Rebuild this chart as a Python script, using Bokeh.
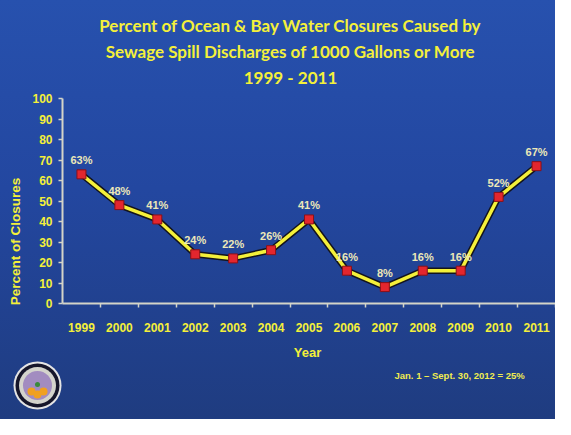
import math
from bokeh.plotting import figure
from bokeh.models import Range1d, FixedTicker, Label, LabelSet, ColumnDataSource
from bokeh.core.properties import value
from bokeh.embed import file_html
from bokeh.resources import INLINE

# ---------------- data ----------------
years = [1999, 2000, 2001, 2002, 2003, 2004, 2005, 2006, 2007, 2008, 2009, 2010, 2011]
percent = [63, 48, 41, 24, 22, 26, 41, 16, 8, 16, 16, 52, 67]
pct_labels = [f"{v}%" for v in percent]
y_ticks = [0, 10, 20, 30, 40, 50, 60, 70, 80, 90, 100]

title_lines = [
    "Percent of Ocean & Bay Water Closures Caused by",
    "Sewage Spill Discharges of 1000 Gallons or More",
    "1999 - 2011",
]
y_label = "Percent of Closures"
x_label = "Year"
note = "Jan. 1 \u2013 Sept. 30, 2012 = 25%"

# ---------------- layout helpers (slide pixels -> data units) ----------------
W, H = 555, 419                 # figure size
LEFT, TOP = 5, 5                # slide pixel where the figure starts
ORG_X, ORG_Y = 67, 308          # slide pixel of the axes' corner
PX = (LEFT + W - ORG_X) / 13.0  # pixels per year
PY = 2.05                       # pixels per percent
X0 = years[0] - 0.5
X1 = years[-1] + 0.5

def X(px):
    return X0 + (px - ORG_X) / PX

def Y(py):
    return (ORG_Y - py) / PY

SANS = "Liberation Sans"
TITLE_FONT = "Lato"
YELLOW = "#f4f03a"
AXIS = "#d4d4c8"

p = figure(width=W, height=H, output_backend="svg", toolbar_location=None, title=None,
           x_range=Range1d(X(LEFT), X(LEFT + W)), y_range=Range1d(Y(TOP + H), Y(TOP)),
           min_border=0)
p.background_fill_color = None
p.border_fill_color = None
p.outline_line_color = None
p.styles = {"background": "linear-gradient(180deg, #2751ae 0%, #2347a0 45%, #1f3c80 100%)"}
p.xgrid.grid_line_color = None
p.ygrid.grid_line_color = None

xa = p.xaxis[0]
xa.fixed_location = 0
xa.bounds = (X0, X1)
xa.ticker = FixedTicker(ticks=years, minor_ticks=[y + 0.5 for y in years])
xa.major_tick_out = 0
xa.major_tick_in = 0
xa.minor_tick_out = 4
xa.minor_tick_in = 0
xa.minor_tick_line_color = AXIS
xa.minor_tick_line_width = 1.5
xa.axis_line_color = AXIS
xa.axis_line_width = 2
xa.major_label_text_font = SANS
xa.major_label_text_font_style = "bold"
xa.major_label_text_font_size = "12px"
xa.major_label_text_color = YELLOW
xa.major_label_standoff = 15

ya = p.yaxis[0]
ya.fixed_location = X0
ya.bounds = (0, 100)
ya.ticker = FixedTicker(ticks=y_ticks, minor_ticks=[])
ya.major_tick_out = 4
ya.major_tick_in = 0
ya.major_tick_line_color = AXIS
ya.major_tick_line_width = 1.5
ya.axis_line_color = AXIS
ya.axis_line_width = 2
ya.major_label_text_font = SANS
ya.major_label_text_font_style = "bold"
ya.major_label_text_font_size = "12px"
ya.major_label_text_color = YELLOW
ya.major_label_standoff = 6

src = ColumnDataSource(dict(year=years, pct=percent, label=pct_labels))

p.line("year", "pct", source=src, line_color="#14141c", line_width=6.5)
p.line("year", "pct", source=src, line_color=YELLOW, line_width=3.5)
p.scatter("year", "pct", source=src, marker="square", size=9,
          fill_color="#e3262e", line_color="#8a1018", line_width=1)

p.add_layout(LabelSet(x="year", y="pct", text="label", source=src, y_offset=14,
                      text_align="center", text_baseline="middle",
                      text_font=value(SANS), text_font_style="bold", text_font_size="11px",
                      text_color="#ece8b8"))

# ---------------- annotations ----------------
for txt, py in zip(title_lines, [30, 56, 82]):
    p.add_layout(Label(x=X(295), y=Y(py), text=txt, text_align="center", text_baseline="middle",
                       text_font=TITLE_FONT, text_font_style="bold", text_font_size="17px",
                       text_color=YELLOW))

p.add_layout(Label(x=X(20), y=Y(246), text=y_label, angle=math.pi / 2,
                   text_align="center", text_baseline="middle",
                   text_font=SANS, text_font_style="bold", text_font_size="13.5px",
                   text_color=YELLOW))

p.add_layout(Label(x=X(312), y=Y(357), text=x_label, text_align="center", text_baseline="middle",
                   text_font=SANS, text_font_style="bold", text_font_size="13px",
                   text_color=YELLOW))

p.add_layout(Label(x=X(399), y=Y(380), text=note, text_align="left", text_baseline="middle",
                   text_font=SANS, text_font_style="bold", text_font_size="9.5px",
                   text_color="#f0ec50"))

# county seal (decorative)
sx, sy = X(42), Y(390)
for size, col in [(48, "#e4e4e4"), (44, "#16162a"), (37, "#d4d4cc"), (29, "#a28cc0")]:
    p.scatter([sx], [sy], marker="circle", size=size, fill_color=col, line_color=None)
p.scatter([X(36), X(42), X(48)], [Y(396), Y(399), Y(396)], marker="circle", size=8,
          fill_color="#f0a020", line_color=None)
p.scatter([X(42)], [Y(389)], marker="circle", size=5, fill_color="#3a8a3a", line_color=None)

open("out.html", "w").write(file_html(p, INLINE))
